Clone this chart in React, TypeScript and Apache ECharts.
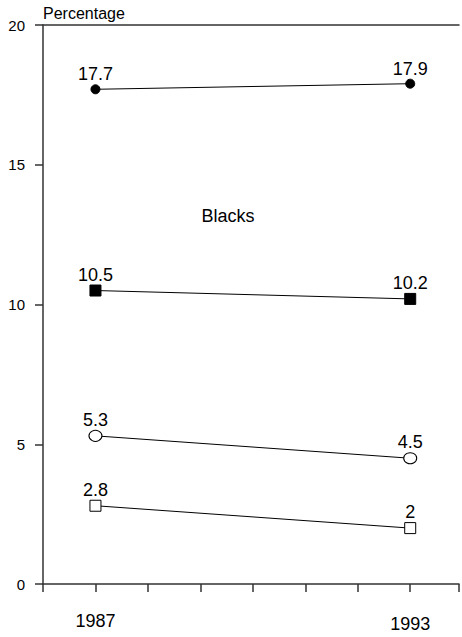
import React, { useEffect, useRef } from "react";
import * as echarts from "echarts";

const years = [1987, 1993];
const seriesA = [17.7, 17.9]; // filled circle
const seriesB = [10.5, 10.2]; // filled square
const seriesC = [5.3, 4.5]; // open circle
const seriesD = [2.8, 2.0]; // open square
const yTicks = [0, 5, 10, 15, 20];
const shownYears = [1987, 1993];

const FONT = "'Liberation Sans', Arial, Helvetica, sans-serif";

function pairs(vals: number[]) {
  return years.map((y, i) => [y, vals[i]]);
}

function makeSeries(vals: number[], symbol: string, size: any, filled: boolean) {
  return {
    type: "line",
    data: pairs(vals),
    symbol,
    symbolSize: size,
    lineStyle: { color: "#000", width: 1 },
    itemStyle: {
      color: filled ? "#000" : "#fff",
      borderColor: "#000",
      borderWidth: 1,
    },
    label: {
      show: true,
      position: "top",
      distance: 1,
      fontFamily: FONT,
      fontSize: 18,
      color: "#000",
      formatter: (p: any) => String(p.value[1]),
    },
    emphasis: { disabled: true },
  };
}

export default function App() {
  const ref = useRef<HTMLDivElement>(null);

  useEffect(() => {
    if (!ref.current) return;
    const chart = echarts.init(ref.current, null, { renderer: "svg" });
    chart.setOption({
      animation: false,
      backgroundColor: "#fff",
      grid: { left: 43, top: 25, right: 0, bottom: 53 },
      xAxis: [
        {
          type: "value",
          min: 1986,
          max: 1993.93,
          interval: 1,
          axisLine: { show: true, lineStyle: { color: "#333", width: 1.5 } },
          axisTick: { show: true, length: 8, lineStyle: { color: "#333", width: 1.5 } },
          splitLine: { show: false },
          axisLabel: {
            margin: 28,
            fontFamily: FONT,
            fontSize: 18,
            color: "#000",
            showMinLabel: true,
            formatter: (v: number) => {
              const y = Math.round(v);
              if (!shownYears.includes(y) || Math.abs(v - y) > 1e-6) return "";
              return y === 1993 ? "{b|" + y + "}" : "{a|" + y + "}";
            },
            rich: {
              a: { fontFamily: FONT, fontSize: 18, color: "#000", padding: [0, 0, 0, 0] },
              b: { fontFamily: FONT, fontSize: 18, color: "#000", padding: [3, 0, 0, 0] },
            },
          },
        },
        {
          type: "value",
          position: "top",
          min: 1986,
          max: 1993.93,
          axisLine: { show: true, onZero: false, lineStyle: { color: "#333", width: 1.5 } },
          axisTick: { show: false },
          axisLabel: { show: false },
          splitLine: { show: false },
        },
      ],
      yAxis: {
        type: "value",
        min: yTicks[0],
        max: yTicks[yTicks.length - 1],
        interval: 5,
        name: "Percentage",
        nameLocation: "end",
        nameGap: 12,
        nameTextStyle: {
          fontFamily: FONT,
          fontSize: 16,
          color: "#000",
          align: "left",
          verticalAlign: "middle",
          padding: [0, 0, 0, -43 + 43],
        },
        axisLine: { show: true, lineStyle: { color: "#333", width: 1.5 } },
        axisTick: { show: true, length: 8, lineStyle: { color: "#333", width: 1.5 } },
        splitLine: { show: false },
        axisLabel: {
          margin: 18,
          fontFamily: FONT,
          fontSize: 15,
          color: "#000",
        },
      },
      graphic: [
        {
          type: "text",
          x: 228,
          y: 216,
          style: {
            text: "Blacks",
            fontFamily: FONT,
            fontSize: 18,
            fill: "#000",
            align: "center",
            verticalAlign: "middle",
          },
        },
      ],
      series: [
        makeSeries(seriesA, "circle", 9, true),
        makeSeries(seriesB, "rect", 11, true),
        makeSeries(seriesC, "circle", [13, 11], false),
        makeSeries(seriesD, "rect", 11, false),
      ],
    });
    return () => chart.dispose();
  }, []);

  return (
    <div
      ref={ref}
      style={{ width: 462, height: 637, position: "fixed", left: 0, top: 0 }}
    />
  );
}
